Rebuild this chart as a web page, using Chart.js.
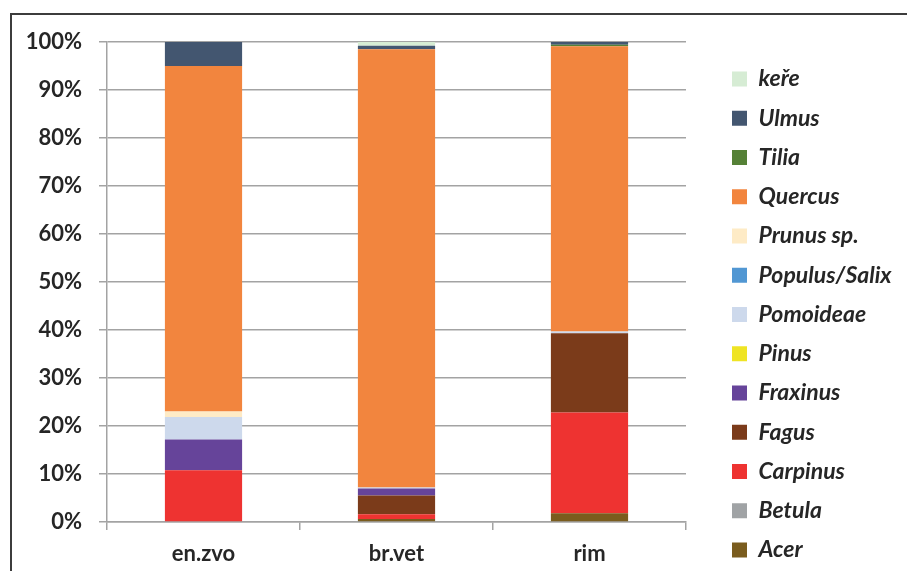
<!DOCTYPE html>
<html>
<head>
<meta charset="utf-8">
<script src="https://cdn.jsdelivr.net/npm/chart.js@4/dist/chart.umd.min.js"></script>
<style>
  html, body { margin: 0; padding: 0; background: #ffffff; }
  #wrap { position: relative; width: 907px; height: 571px; overflow: hidden; }
  #frame {
    position: absolute; left: 10px; top: 13px; width: 1000px; height: 1000px;
    border-left: 2px solid #3c3c3c; border-top: 2px solid #3c3c3c;
    pointer-events: none; box-sizing: border-box;
  }
  canvas { position: absolute; left: 0; top: 0; }
</style>
</head>
<body>
<div id="wrap">
  <canvas id="chart" width="907" height="571"></canvas>
  <div id="frame"></div>
</div>
<script>
// Sites
const categories = ['en.zvo', 'br.vet', 'rim'];

// Share of each taxon per site (%), listed from the bottom of the stack upward
const taxa = ['Acer', 'Betula', 'Carpinus', 'Fagus', 'Fraxinus', 'Pinus', 'Pomoideae',
              'Populus/Salix', 'Prunus sp.', 'Quercus', 'Tilia', 'Ulmus', 'keře'];
const acer        = [0.0, 0.6, 1.8];
const betula      = [0.0, 0.0, 0.0];
const carpinus    = [10.8, 1.0, 21.0];
const fagus       = [0.0, 3.9, 16.5];
const fraxinus    = [6.4, 1.5, 0.0];
const pinus       = [0.0, 0.0, 0.0];
const pomoideae   = [4.7, 0.2, 0.4];
const populusSalix= [0.0, 0.0, 0.0];
const prunus      = [1.1, 0.0, 0.0];
const quercus     = [72.0, 91.3, 59.4];
const tilia       = [0.0, 0.0, 0.35];
const ulmus       = [5.0, 0.7, 0.55];
const kere        = [0.0, 0.8, 0.0];

// Y axis ticks
const yTicks = [0, 10, 20, 30, 40, 50, 60, 70, 80, 90, 100];

const seriesValues = [acer, betula, carpinus, fagus, fraxinus, pinus, pomoideae,
                      populusSalix, prunus, quercus, tilia, ulmus, kere];
const seriesColors = ['#7a5c1e', '#a0a3a5', '#ee3331', '#7b3b1a', '#66449a', '#efe424',
                      '#cdd9ec', '#5197d3', '#feebc6', '#f2853e', '#558136', '#435670',
                      '#d6ecd4'];

const FONT = 'Lato, "Open Sans", sans-serif';
const LEGEND_FONT_SIZE = 23;
const LEGEND_PADDING = 16.25;
const LEGEND_BOX_WIDTH = 221;
const LEGEND_LEFT = 732 - LEGEND_PADDING;
const LEGEND_TOP = 79 - LEGEND_FONT_SIZE / 2 - LEGEND_PADDING;

// Fixes the legend column's width and position beside the plot
const legendPlacement = {
  id: 'legendPlacement',
  beforeLayout(chart) {
    const lg = chart.legend;
    if (lg && !lg._fixedFit) {
      const fit = lg.fit;
      lg.fit = function () { fit.call(this); this.width = LEGEND_BOX_WIDTH; };
      lg._fixedFit = true;
    }
  },
  afterLayout(chart) {
    const lg = chart.legend;
    if (!lg) return;
    lg.left = LEGEND_LEFT;
    lg.right = lg.left + lg.width;
    lg.top = LEGEND_TOP;
    lg.bottom = chart.height + 40;
  }
};

new Chart(document.getElementById('chart'), {
  type: 'bar',
  data: {
    labels: categories,
    datasets: taxa.map((name, i) => ({
      label: name,
      data: seriesValues[i],
      backgroundColor: seriesColors[i],
      borderWidth: 0,
      categoryPercentage: 1,
      barPercentage: 0.4
    }))
  },
  options: {
    responsive: false,
    animation: false,
    layout: { padding: { top: 42, left: 0, right: 0, bottom: 0 } },
    plugins: {
      tooltip: { enabled: false },
      legend: {
        position: 'right',
        align: 'start',
        reverse: true,
        labels: {
          boxWidth: 15,
          boxHeight: 15,
          padding: LEGEND_PADDING,
          color: '#262626',
          font: { family: FONT, size: LEGEND_FONT_SIZE, weight: 'bold', style: 'italic' }
        }
      }
    },
    scales: {
      x: {
        stacked: true,
        grid: {
          offset: true,
          drawOnChartArea: false,
          drawTicks: true,
          tickLength: 8,
          color: '#a3a3a3',
          lineWidth: 1.5
        },
        border: { display: true, color: '#a3a3a3', width: 1.5 },
        ticks: {
          color: '#262626',
          padding: 11,
          font: { family: FONT, size: 22, weight: 'bold' }
        },
        afterFit(scale) { scale.height = 49; }
      },
      y: {
        stacked: true,
        min: 0,
        max: 100,
        afterBuildTicks(scale) { scale.ticks = yTicks.map(v => ({ value: v })); },
        grid: {
          color: '#a3a3a3',
          lineWidth: 1.5,
          tickLength: 8
        },
        border: { display: true, color: '#a3a3a3', width: 1.5 },
        ticks: {
          color: '#262626',
          padding: 17,
          font: { family: FONT, size: 22, weight: 'bold' },
          callback: v => v + '%'
        },
        afterFit(scale) { scale.width = 107; }
      }
    }
  },
  plugins: [legendPlacement]
});
</script>
</body>
</html>
